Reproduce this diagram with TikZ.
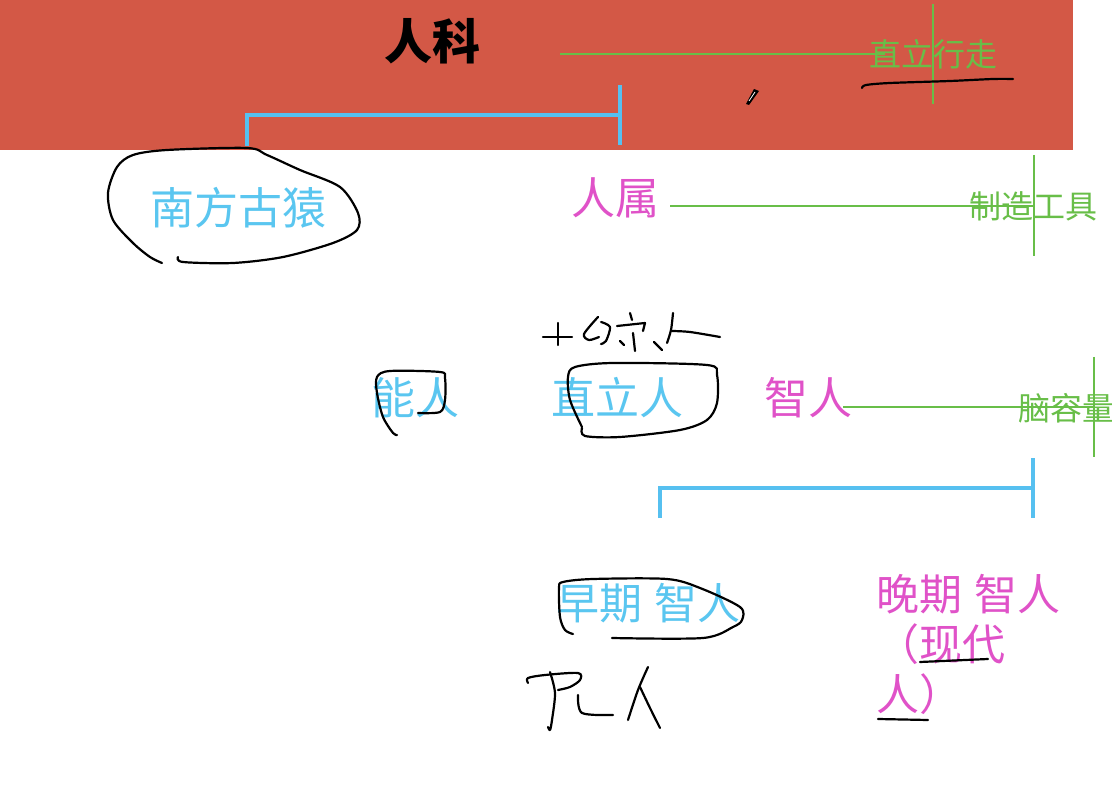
\documentclass[tikz,border=0pt]{standalone}
\usepackage{fontspec}
\newfontfamily\cjk{Noto Sans CJK SC}
\definecolor{bgred}{RGB}{211,88,70}
\definecolor{tblue}{RGB}{90,198,240}
\definecolor{tmag}{RGB}{224,82,200}
\definecolor{tgreen}{RGB}{104,190,72}
\definecolor{bblue}{RGB}{86,192,240}
\begin{document}
\begin{tikzpicture}[x=1pt,y=-1pt,
  blueT/.style={text=tblue,font=\cjk\fontsize{44}{50}\selectfont,inner sep=0pt},
  magT/.style={text=tmag,font=\cjk\fontsize{44}{50}\selectfont,inner sep=0pt},
  greenT/.style={text=tgreen,font=\cjk\fontsize{32}{36}\selectfont,inner sep=0pt},
  greenL/.style={draw=tgreen,line width=1.4pt},
  bracketL/.style={draw=bblue,line width=3.6pt},
  hand/.style={draw=black,line width=2.2pt,line cap=round,line join=round}]
\useasboundingbox (0,0) rectangle (1112,810);
\fill[white] (0,0) rectangle (1112,810);
\fill[bgred] (0,0) rectangle (1073,150);

% title
\node[inner sep=0pt,font=\cjk\bfseries\fontsize{48}{56}\selectfont] (renke) at (432,41) {人科};

% green marker lines with labels
\node[greenT] (zlxz) at (933,54) {直立行走};
\coordinate (g1s) at (560,54);
\coordinate (g1e) at (885,54);
\draw[greenL] (g1s) -- (g1e);
\coordinate (v1t) at (933,4);
\coordinate (v1b) at (933,104);
\draw[greenL] (v1t) -- (v1b);

\node[greenT] (zzgj) at (1033,206) {制造工具};
\coordinate (g2s) at (670,206);
\coordinate (g2e) at (1033,206);
\draw[greenL] (g2s) -- (g2e);
\coordinate (v2t) at (1034,155);
\coordinate (v2b) at (1034,256);
\draw[greenL] (v2t) -- (v2b);

\node[greenT] (nrl) at (1066,408) {脑容量};
\coordinate (g3s) at (843,407);
\coordinate (g3e) at (1094,407);
\draw[greenL] (g3s) -- (g3e);
\coordinate (v3t) at (1094,357);
\coordinate (v3b) at (1094,457);
\draw[greenL] (v3t) -- (v3b);

% black underline under 直立行走
\draw[hand] plot[smooth] coordinates {(862,88) (866,85) (890,83) (950,81) (993,79) (1013,79)};

% cursor
\fill[black] (746,104) -- (754,89) -- (759,91) -- (749,105) -- cycle;
\draw[white,line width=0.8pt] (749,101) -- (755,92);

% top bracket
\coordinate (b1l) at (247,146);
\coordinate (b1lt) at (247,115);
\coordinate (b1rt) at (620,115);
\coordinate (b1r) at (620,145);
\coordinate (b1rtop) at (620,85);
\draw[bracketL] (b1l) -- (b1lt) -- (b1rt);
\draw[bracketL] (b1rtop) -- (b1r);

% level 2
\node[blueT] (nfgy) at (238,208) {南方古猿};
\node[magT] (rs) at (615,198) {人属};
\draw[hand] plot[smooth] coordinates {(162,263) (150,257) (133,243) (113,220) (108,193) (117,167) (133,155) (167,150) (247,148) (267,155) (300,170) (340,187) (358,213) (357,230) (333,243) (283,257) (233,263) (183,262) (178,257)};

% level 3
\node[blueT] (nr) at (415,398) {能人};
\node[blueT] (zlr) at (617,398) {直立人};
\node[magT] (zr) at (808,398) {智人};
\draw[hand] plot[smooth] coordinates {(397,435) (393,433) (383,417) (377,393) (377,377) (390,371) (440,372) (445,378) (445,400) (440,412) (418,413)};
\draw[hand] plot[smooth] coordinates {(582,427) (570,400) (568,377) (575,367) (613,363) (707,365) (717,375) (717,403) (707,420) (680,430) (620,437) (585,436) (582,428)};

% handwritten 北京人
\draw[hand] (543,337) -- (572,337);
\draw[hand] (558,323) -- (558,345);
\draw[hand] plot[smooth] coordinates {(598,317) (584,334) (589,340) (599,337)};
\draw[hand] plot[smooth] coordinates {(601,322) (610,327) (606,341) (601,344)};
\draw[hand] (630,313) -- (632,320);
\draw[hand] (617,326) -- (645,323) -- (643,331);
\draw[hand] (633,333) -- (635,351);
\draw[hand] (620,341) -- (624,345);
\draw[hand] (654,342) -- (662,350);
\draw[hand] plot[smooth] coordinates {(673,313) (671,330) (667,343)};
\draw[hand] plot[smooth] coordinates {(672,331) (690,332) (720,337)};

% lower bracket
\coordinate (b2l) at (660,518);
\coordinate (b2lt) at (660,488);
\coordinate (b2rt) at (1033,488);
\coordinate (b2rtop) at (1033,458);
\coordinate (b2r) at (1033,518);
\draw[bracketL] (b2l) -- (b2lt) -- (b2rt);
\draw[bracketL] (b2rtop) -- (b2r);

% level 4
\node[blueT,font=\cjk\fontsize{43}{50}\selectfont] (zqzr) at (648,603) {早期\hspace{12pt}智人};
\draw[hand] plot[smooth] coordinates {(573,634) (565,630) (560,617) (559,588) (563,582) (593,579) (667,579) (700,588) (740,607) (742,620) (733,627) (703,638) (612,638)};

\node[magT,font=\cjk\fontsize{43}{50}\selectfont,align=left,anchor=north west] (wqzr) at (876,574) {晚期\hspace{12pt}智人\\（现代\\人）};
\draw[hand] (920,662) -- (988,659);
\draw[hand] (878,719) -- (928,720);

% handwritten 尼人
\draw[hand] plot[smooth] coordinates {(528,683) (528,678) (545,675) (578,673) (580,680) (570,687) (558,690)};
\draw[hand] plot[smooth] coordinates {(550,672) (555,693) (552,720) (550,730) (548,727)};
\draw[hand] plot[smooth] coordinates {(578,695) (582,713) (613,715)};
\draw[hand] plot[smooth] coordinates {(648,667) (638,690) (628,720)};
\draw[hand] plot[smooth] coordinates {(640,687) (650,708) (660,728)};
\end{tikzpicture}
\end{document}
